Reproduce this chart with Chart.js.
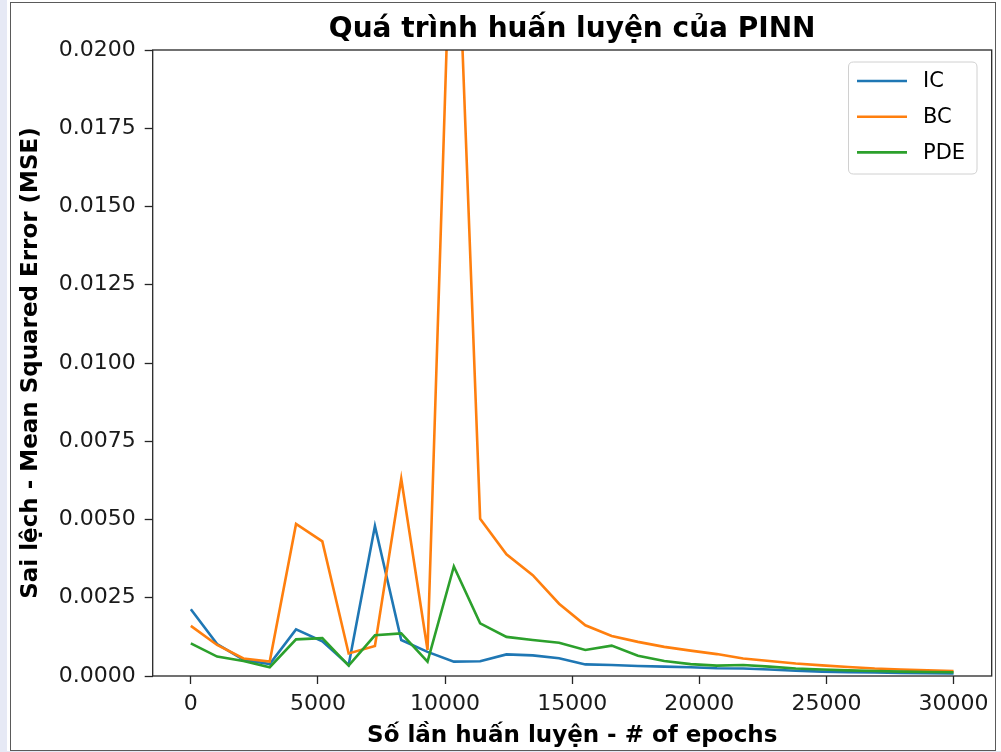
<!DOCTYPE html>
<html>
<head>
<meta charset="utf-8">
<script src="https://cdn.jsdelivr.net/npm/chart.js@4.4.1/dist/chart.umd.min.js"></script>
<style>
  html, body { margin: 0; padding: 0; background: #ffffff; }
  #strip { position: absolute; left: 0; top: 0; width: 7px; height: 752px; background: #e6e9f5; }
  #bottomstrip { position: absolute; left: 0; top: 751px; width: 1001px; height: 1px; background: #e6e9f5; }
  #frame { position: absolute; left: 10px; top: 2px; width: 984px; height: 747px; border: 1.5px solid #5a5a5a; background: #ffffff; }
  #wrap { position: absolute; left: 0; top: 0; width: 1001px; height: 752px; }
</style>
</head>
<body>
<div id="strip"></div>
<div id="bottomstrip"></div>
<div id="frame"></div>
<div id="wrap"><canvas id="c" width="1001" height="752"></canvas></div>
<script>
// ---- data ----
const epochs = [0, 1034, 2069, 3103, 4138, 5172, 6207, 7241, 8276, 9310,
  10345, 11379, 12414, 13448, 14483, 15517, 16552, 17586, 18621, 19655,
  20690, 21724, 22759, 23793, 24828, 25862, 26897, 27931, 28966, 30000];
const icLoss = [0.00213, 0.00102, 0.00052, 0.00038, 0.00149, 0.00111, 0.00035, 0.00479, 0.00115, 0.00077,
  0.00046, 0.00047, 0.00069, 0.00066, 0.00057, 0.00037, 0.00035, 0.00032, 0.00030, 0.00028,
  0.00025, 0.00024, 0.00021, 0.00017, 0.00014, 0.00012, 0.00011, 0.00010, 0.00009, 0.00008];
const bcLoss = [0.00160, 0.00099, 0.00056, 0.00046, 0.00486, 0.00430, 0.00072, 0.00096, 0.00630, 0.00083,
  0.02740, 0.00502, 0.00389, 0.00322, 0.00231, 0.00162, 0.00128, 0.00109, 0.00093, 0.00081,
  0.00070, 0.00056, 0.00048, 0.00040, 0.00034, 0.00029, 0.00024, 0.00021, 0.00018, 0.00016];
const pdeLoss = [0.00104, 0.00062, 0.00048, 0.00028, 0.00117, 0.00121, 0.00033, 0.00130, 0.00136, 0.00046,
  0.00350, 0.00168, 0.00125, 0.00115, 0.00106, 0.00083, 0.00097, 0.00065, 0.00048, 0.00038,
  0.00033, 0.00035, 0.00030, 0.00024, 0.00021, 0.00018, 0.00016, 0.00014, 0.00013, 0.00012];
const seriesNames = ['IC', 'BC', 'PDE'];
const xTickValues = [0, 5000, 10000, 15000, 20000, 25000, 30000];
const yTickValues = [0, 0.0025, 0.0050, 0.0075, 0.0100, 0.0125, 0.0150, 0.0175, 0.0200];
const chartTitle = 'Quá trình huấn luyện của PINN';
const xTitle = 'Số lần huấn luyện - # of epochs';
const yTitle = 'Sai lệch - Mean Squared Error (MSE)';

// ---- styling ----
const FONT = '"DejaVu Sans", sans-serif';
const colors = ['#1f77b4', '#ff7f0e', '#2ca02c'];
const seriesData = [icLoss, bcLoss, pdeLoss];

const toPoints = arr => epochs.map((e, i) => ({ x: e, y: arr[i] }));

const decorPlugin = {
  id: 'decor',
  afterDatasetsDraw(chart) {
    const { ctx, chartArea: a } = chart;
    ctx.save();
    // spines
    ctx.strokeStyle = '#262626';
    ctx.lineWidth = 1.3;
    ctx.strokeRect(a.left, a.top, a.right - a.left, a.bottom - a.top);
    // title
    ctx.fillStyle = '#000';
    ctx.font = 'bold 28px ' + FONT;
    ctx.textAlign = 'center';
    ctx.textBaseline = 'alphabetic';
    ctx.fillText(chartTitle, (a.left + a.right) / 2, 37);
    // legend
    const lx = 848.5, ly = 62, lw = 128.5, lh = 112, r = 5;
    ctx.beginPath();
    ctx.moveTo(lx + r, ly);
    ctx.lineTo(lx + lw - r, ly);
    ctx.quadraticCurveTo(lx + lw, ly, lx + lw, ly + r);
    ctx.lineTo(lx + lw, ly + lh - r);
    ctx.quadraticCurveTo(lx + lw, ly + lh, lx + lw - r, ly + lh);
    ctx.lineTo(lx + r, ly + lh);
    ctx.quadraticCurveTo(lx, ly + lh, lx, ly + lh - r);
    ctx.lineTo(lx, ly + r);
    ctx.quadraticCurveTo(lx, ly, lx + r, ly);
    ctx.closePath();
    ctx.fillStyle = 'rgba(255,255,255,0.8)';
    ctx.fill();
    ctx.strokeStyle = '#d0d0d0';
    ctx.lineWidth = 1;
    ctx.stroke();
    ctx.font = '21px ' + FONT;
    ctx.textAlign = 'left';
    ctx.textBaseline = 'middle';
    chart.data.datasets.forEach((ds, i) => {
      const y = 81 + i * 35.7;
      ctx.strokeStyle = ds.borderColor;
      ctx.lineWidth = 2.6;
      ctx.beginPath();
      ctx.moveTo(857, y);
      ctx.lineTo(907, y);
      ctx.stroke();
      ctx.fillStyle = '#000';
      ctx.fillText(ds.label, 923, y + 1);
    });
    ctx.restore();
  }
};

new Chart(document.getElementById('c'), {
  type: 'line',
  data: {
    datasets: seriesNames.map((name, i) => ({
      label: name,
      data: toPoints(seriesData[i]),
      borderColor: colors[i],
      backgroundColor: colors[i],
      borderWidth: 2.6,
      pointRadius: 0,
      tension: 0,
      fill: false,
      order: 3 - i
    }))
  },
  options: {
    responsive: false,
    animation: false,
    devicePixelRatio: 1,
    layout: { padding: { top: 50, right: 9.3, left: 0, bottom: 0 } },
    plugins: {
      legend: { display: false },
      title: { display: false },
      tooltip: { enabled: false }
    },
    scales: {
      x: {
        type: 'linear',
        min: -1500,
        max: 31500,
        afterBuildTicks: s => { s.ticks = xTickValues.map(v => ({ value: v })); },
        afterFit: s => { s.height = 76; },
        ticks: {
          font: { family: FONT, size: 22 },
          color: '#1a1a1a',
          padding: 7,
          maxRotation: 0,
          autoSkip: false,
          callback: v => String(v)
        },
        grid: { display: true, drawOnChartArea: false, drawTicks: true, tickLength: 8, tickWidth: 1.3, tickColor: '#262626' },
        border: { display: false },
        title: {
          display: true,
          text: xTitle,
          font: { family: FONT, size: 23, weight: 'bold' },
          color: '#000',
          padding: { top: 0, bottom: 2 }
        }
      },
      y: {
        type: 'linear',
        min: 0,
        max: 0.02,
        afterBuildTicks: s => { s.ticks = yTickValues.map(v => ({ value: v })); },
        afterFit: s => { s.width = 152.7; },
        ticks: {
          font: { family: FONT, size: 22 },
          color: '#1a1a1a',
          padding: 9,
          autoSkip: false,
          callback: v => Number(v).toFixed(4)
        },
        grid: { display: true, drawOnChartArea: false, drawTicks: true, tickLength: 8, tickWidth: 1.3, tickColor: '#262626' },
        border: { display: false },
        title: {
          display: true,
          text: yTitle,
          font: { family: FONT, size: 23, weight: 'bold' },
          color: '#000',
          padding: { top: 17, bottom: 0 }
        }
      }
    }
  },
  plugins: [decorPlugin]
});
</script>
</body>
</html>
